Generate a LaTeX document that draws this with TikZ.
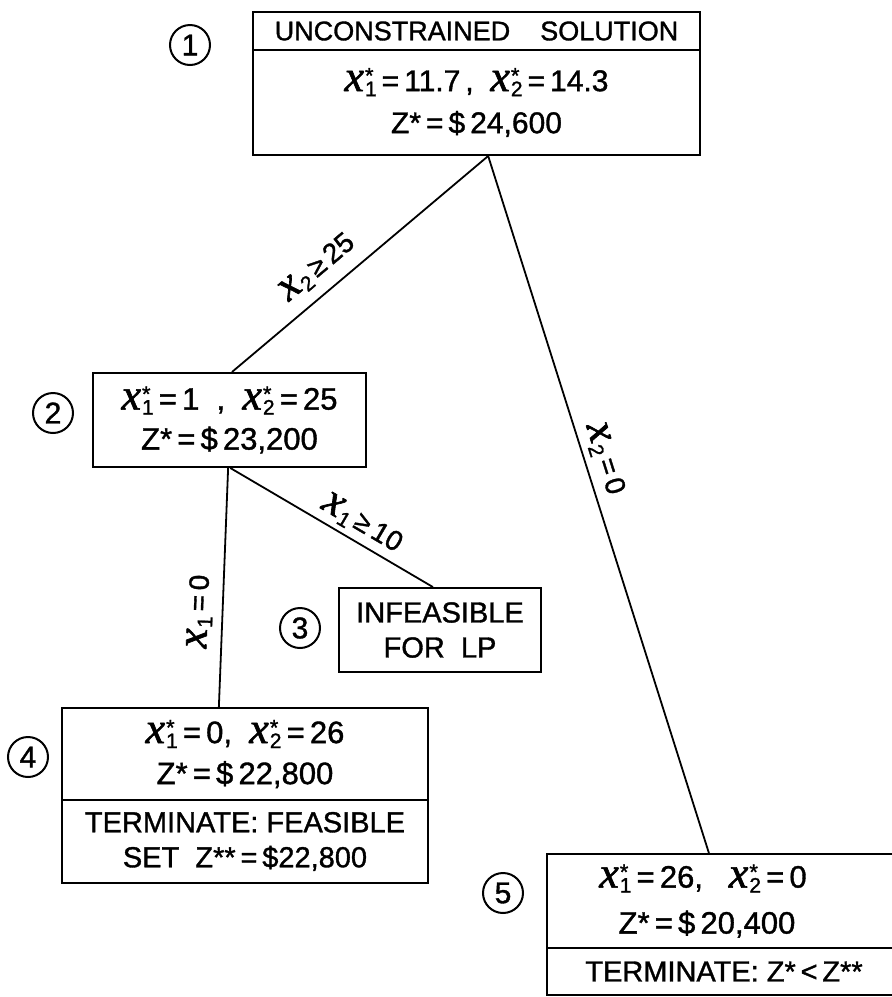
\documentclass[tikz,border=0pt]{standalone}
\usepackage{fontspec}
\setmainfont{Liberation Sans}[FakeBold=1.2]
\newfontfamily\xfont{Liberation Serif}[FakeBold=1.5]
\usetikzlibrary{calc}
\newcommand{\bigx}{{\xfont\itshape\fontsize{44}{44}\selectfont x}}
\newcommand{\xst}[1]{\bigx\kern1pt\rlap{\raisebox{8pt}{\fontsize{22}{22}\selectfont*}}\raisebox{-5pt}{\fontsize{21}{21}\selectfont #1}}
\newcommand{\xsub}[1]{\bigx\kern1pt\raisebox{-5pt}{\fontsize{21}{21}\selectfont #1}}
\begin{document}
\begin{tikzpicture}[x=1pt,y=-1pt,
  box/.style={draw, line width=2pt, rectangle, inner sep=0pt, align=center},
  bigtxt/.style 2 args={font=\fontsize{#1}{#2}\selectfont},
  num/.style={draw, circle, line width=2pt, minimum size=40pt, inner sep=0pt, font=\fontsize{30}{30}\selectfont},
  conn/.style={line width=1.8pt},
  lab/.style={sloped, inner sep=1pt, font=\fontsize{28}{28}\selectfont}]
\useasboundingbox (0,0) rectangle (892,997);
\clip (0,0) rectangle (892,997);

% node 1
\node[box, bigtxt={27}{28}, minimum width=447pt, minimum height=38pt] (b1h) at (476.5,31) {UNCONSTRAINED\hspace{30pt}SOLUTION};
\node[box, bigtxt={30}{42}, minimum width=447pt, minimum height=105pt] (b1b) at (476.5,102.5)
  {\xst1\,=\,11.7\,,\ \ \xst2\,=\,14.3\\ Z*\,=\,\$\,24,600};
\node[num] (c1) at (190,45) {1};

% node 2
\node[box, bigtxt={31}{40}, minimum width=273pt, minimum height=94pt] (b2) at (229.5,420)
  {\xst1\,=\,1\ \ ,\ \ \xst2\,=\,25\\ Z*\,=\,\$\,23,200};
\node[num] (c2) at (53,413) {2};

% node 3
\node[box, bigtxt={29}{35}, minimum width=202pt, minimum height=84pt] (b3) at (440,630)
  {INFEASIBLE\\ FOR\ \ LP};
\node[num] (c3) at (300,628) {3};

% node 4
\node[box, bigtxt={31}{41}, minimum width=366pt, minimum height=92pt] (b4t) at (245,754)
  {\xst1\,=\,0,\ \ \xst2\,=\,26\\ Z*\,=\,\$\,22,800};
\node[box, bigtxt={29}{35}, minimum width=366pt, minimum height=83pt] (b4b) at (245,841.5)
  {TERMINATE:\ FEASIBLE\\ SET\ \ Z**\,=\,\$22,800};
\node[num] (c4) at (28,757) {4};

% node 5
\node[box, bigtxt={31}{46}, minimum width=360pt, minimum height=94pt] (b5t) at (727,901)
  {\xst1\,=\,26,\ \ \ \xst2\,=\,0\hspace*{48pt}\\ Z*\,=\,\$\,20,400\hspace*{40pt}};
\node[box, bigtxt={29}{30}, minimum width=360pt, minimum height=47pt] (b5b) at (727,971.5)
  {TERMINATE:\ Z*\,<\,Z**\hspace*{6pt}};
\node[num] (c5) at (503,893) {5};

% connectors
\draw[conn] ($(b1b.south west)!0.526!(b1b.south east)$) --
  node[lab, pos=0.604, above=10pt] {\xsub2\,≥\,25}
  ($(b2.north west)!0.509!(b2.north east)$);
\draw[conn] ($(b1b.south west)!0.526!(b1b.south east)$) --
  node[lab, pos=0.443, above=5pt] {\xsub2\,=\,0}
  ($(b5t.north west)!0.45!(b5t.north east)$);
\draw[conn] ($(b2.south west)!0.503!(b2.south east)$) --
  node[lab, pos=0.603, above=4pt] {\xsub1\,≥\,10}
  ($(b3.north west)!0.465!(b3.north east)$);
\draw[conn] ($(b2.south west)!0.495!(b2.south east)$) --
  node[lab, pos=0.604, above=8pt] {\xsub1\,=\,0}
  ($(b4t.north west)!0.429!(b4t.north east)$);
\end{tikzpicture}
\end{document}
